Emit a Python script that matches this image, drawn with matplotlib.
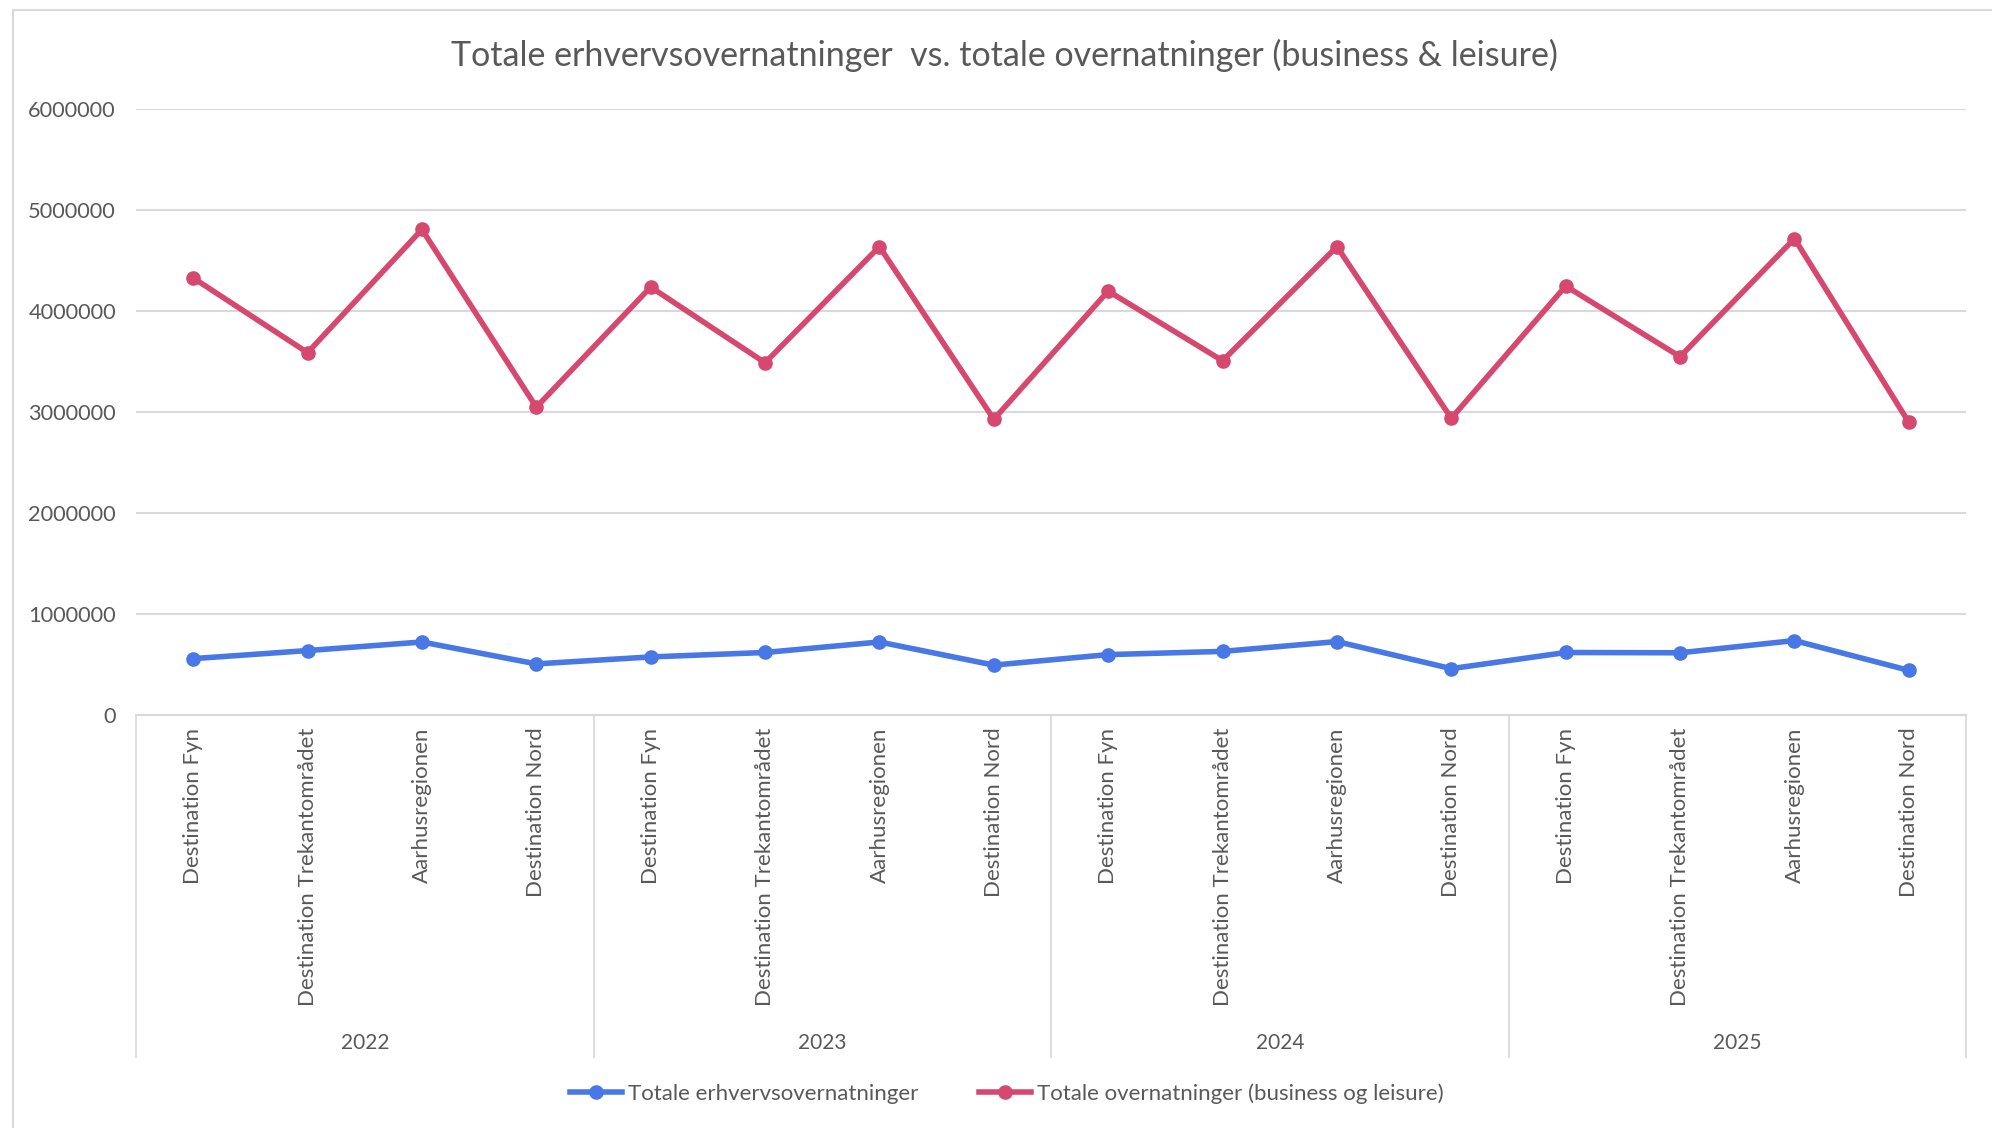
import matplotlib
matplotlib.use("Agg")
import matplotlib.pyplot as plt
from matplotlib.patches import Rectangle
from matplotlib.lines import Line2D

plt.rcParams['font.family'] = ['Lato', 'DejaVu Sans']

years = ["2022", "2023", "2024", "2025"]
regions = ["Destination Fyn", "Destination Trekantområdet", "Aarhusregionen", "Destination Nord"]

erhverv = [560000, 640000, 725000, 508000,
           577000, 621000, 725000, 496000,
           600000, 632000, 729000, 461000,
           621000, 618000, 739000, 444000]
total = [4330000, 3590000, 4810000, 3050000,
         4240000, 3490000, 4640000, 2930000,
         4200000, 3510000, 4640000, 2940000,
         4250000, 3550000, 4720000, 2900000]

series_names = ["Totale erhvervsovernatninger", "Totale overnatninger (business og leisure)"]
title = "Totale erhvervsovernatninger  vs. totale overnatninger (business & leisure)"
yticks = [0, 1000000, 2000000, 3000000, 4000000, 5000000, 6000000]

blue = "#4877E6"
pink = "#D6486F"
grey_txt = "#595959"
grid_c = "#D9D9D9"

W, H = 1992, 1128
fig = plt.figure(figsize=(W / 100, H / 100), dpi=100)

# chart border
fig.patches.append(Rectangle((13 / W, -0.1), 1.2, (H - 10) / H + 0.1, transform=fig.transFigure,
                             fill=False, edgecolor=grid_c, linewidth=1.5))

left, right = 136, 1966
top, bottom = 109.3, 715.2
ax = fig.add_axes([left / W, 1 - bottom / H, (right - left) / W, (bottom - top) / H])

labels = [r for y in years for r in regions]
x = list(range(len(labels)))

LW, MS = 4.0, 9.5
ax.plot(x, erhverv, color=blue, lw=LW, marker='o', ms=MS, solid_capstyle='round',
        label=series_names[0], zorder=3)
ax.plot(x, total, color=pink, lw=LW, marker='o', ms=MS, solid_capstyle='round',
        label=series_names[1], zorder=3)

ax.set_xlim(-0.5, len(labels) - 0.5)
ax.set_ylim(0, 6000000)
ax.set_yticks(yticks)
ax.set_yticklabels([str(v) for v in yticks])
ax.tick_params(axis='y', length=0, pad=14.5, labelsize=15.7, labelcolor=grey_txt)
ax.yaxis.grid(True, color=grid_c, lw=1.5)
ax.set_axisbelow(True)
for s in ['top', 'right', 'left']:
    ax.spines[s].set_visible(False)
ax.spines['bottom'].set_color(grid_c)
ax.spines['bottom'].set_linewidth(1.5)

ax.set_xticks(x)
ax.set_xticklabels(labels, rotation=90, ha='center', va='top')
ax.tick_params(axis='x', length=0, pad=9, labelsize=16, labelcolor=grey_txt)

# year group axis
n = len(regions)
sec = ax.secondary_xaxis('bottom')
bounds = [i * n - 0.5 for i in range(len(years) + 1)]
centers = [i * n + (n - 1) / 2 for i in range(len(years))]
sec.set_xticks(bounds)
sec.set_xticklabels([''] * len(bounds))
sec.set_xticks(centers, minor=True)
sec.set_xticklabels(years, minor=True)
sec.tick_params(axis='x', which='major', length=247, width=1.2, color=grid_c, direction='out')
sec.tick_params(axis='x', which='minor', length=0, pad=228.5, labelsize=15, labelcolor=grey_txt)
sec.spines['bottom'].set_visible(False)

fig.text(791 * 1.2704 / W, 1 - 55 / H, title, ha='center', va='center', fontsize=24.5, color=grey_txt)

handles = [Line2D([], [], color=blue, lw=LW, marker='o', ms=MS),
           Line2D([], [], color=pink, lw=LW, marker='o', ms=MS)]
fig.legend(handles, series_names, loc='center', bbox_to_anchor=(1007 / W, 1 - 1093.5 / H),
           ncol=2, frameon=False, fontsize=16, handlelength=2.3, handletextpad=0.29,
           columnspacing=2.75, labelcolor=grey_txt)

fig.savefig("out.png", dpi=100, facecolor='white')
